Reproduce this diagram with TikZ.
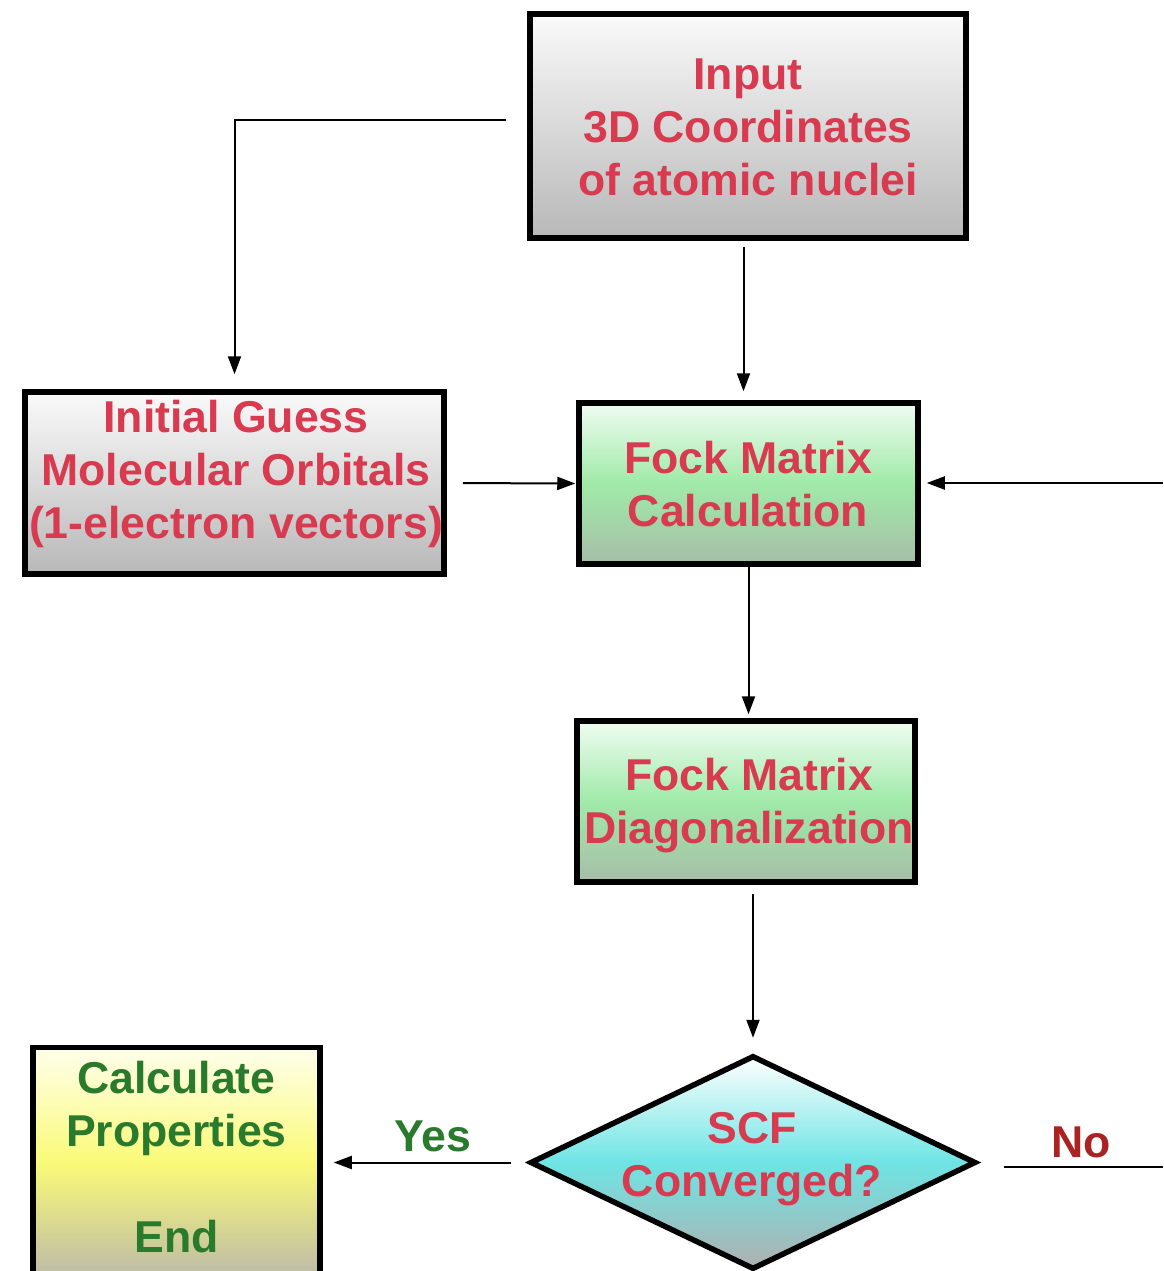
\documentclass[tikz,border=0pt]{standalone}
\usepackage{fontspec}
\setmainfont{Liberation Sans}
\usetikzlibrary{shapes.geometric,arrows.meta}
\definecolor{txtred}{RGB}{216,58,80}
\definecolor{txtgreen}{RGB}{42,122,46}
\definecolor{nored}{RGB}{170,34,34}
\tikzset{
  box/.style={draw=black, line width=5.5pt, rectangle, inner sep=0pt},
  graybox/.style={box, top color={rgb,255:red,250;green,250;blue,250}, bottom color={rgb,255:red,184;green,184;blue,184}},
  greenbox/.style={box, top color={rgb,255:red,240;green,252;blue,242}, bottom color={rgb,255:red,166;green,190;blue,168}, middle color={rgb,255:red,160;green,234;blue,168}},
  yellowbox/.style={box, top color={rgb,255:red,255;green,255;blue,236}, bottom color={rgb,255:red,188;green,186;blue,168}, middle color={rgb,255:red,250;green,250;blue,120}},
  cyandia/.style={draw=black, line width=5.5pt, diamond, inner sep=0pt, top color=white, bottom color={rgb,255:red,176;green,176;blue,176}, middle color={rgb,255:red,110;green,228;blue,228}},
  txt/.style={font=\fontsize{44.6}{53}\selectfont\bfseries, align=center, inner sep=0pt},
  redtxt/.style={txt, text=txtred},
  arr/.style={line width=2pt, -{Triangle[length=18pt,width=13pt]}},
  plain/.style={line width=2pt},
}
\begin{document}
\begin{tikzpicture}[x=1pt,y=-1pt]
\clip (0,0) rectangle (1163,1271);
\fill[white] (0,0) rectangle (1163,1271);

% boxes
\node[graybox, minimum width=436pt, minimum height=224pt] (in) at (748,126) {};
\node[redtxt] (intxt) at (748,127) {Input\\3D Coordinates\\of atomic nuclei};

\node[graybox, minimum width=419pt, minimum height=182pt] (ig) at (234.5,483) {};
\node[redtxt] (igtxt) at (236,474) {Initial Guess\\Molecular Orbitals\\(1-electron vectors)};

\node[greenbox, minimum width=339pt, minimum height=161pt] (fc) at (748.5,483.5) {};
\node[redtxt] (fctxt) at (748,484.5) {Fock Matrix\\Calculation};

\node[greenbox, minimum width=338pt, minimum height=161pt] (fd) at (746,801.5) {};
\node[redtxt] (fdtxt) at (749,806) {Fock Matrix\\Diagonalization};

\node[cyandia, minimum width=446pt, minimum height=214pt] (dm) at (753,1162.5) {};
\node[redtxt] (dmtxt) at (752,1159.5) {SCF\\Converged?};

\node[yellowbox, minimum width=287pt, minimum height=230pt] (cp) at (176.5,1162.5) {};
\node[txt, text=txtgreen] (cptxt) at (176.5,1157.5) {Calculate\\Properties\\[53pt]End};

% connectors
\draw[arr, shorten >=15pt] ([xshift=-21pt,yshift=6pt]in.west) -| (ig.north);
\draw[arr, shorten <=6pt, shorten >=9pt] ([xshift=-4.5pt]in.south) -- ([xshift=-4.5pt]in.south |- fc.north);
\draw[arr, shorten <=16pt, shorten >=1pt] (ig.east) -- (fc.west);
\coordinate (rin) at (1163,483);
\draw[arr, shorten >=6pt] (rin) -- (fc.east |- rin);
\draw[arr, shorten >=4pt] (fc.south) -- (fc.south |- fd.north);
\draw[arr, shorten <=9pt, shorten >=15pt] (dm.north |- fd.south) -- (dm.north);
\draw[arr, shorten <=16pt, shorten >=11pt] (dm.west) -- (cp.east |- dm.west);
\coordinate (rout) at (1163,1167);
\draw[plain, shorten <=25pt] (dm.east |- rout) -- (rout);

% labels
\node[txt, text=txtgreen] (yes) at (433,1136) {Yes};
\node[txt, text=nored] (no) at (1081,1142) {No};
\end{tikzpicture}
\end{document}
